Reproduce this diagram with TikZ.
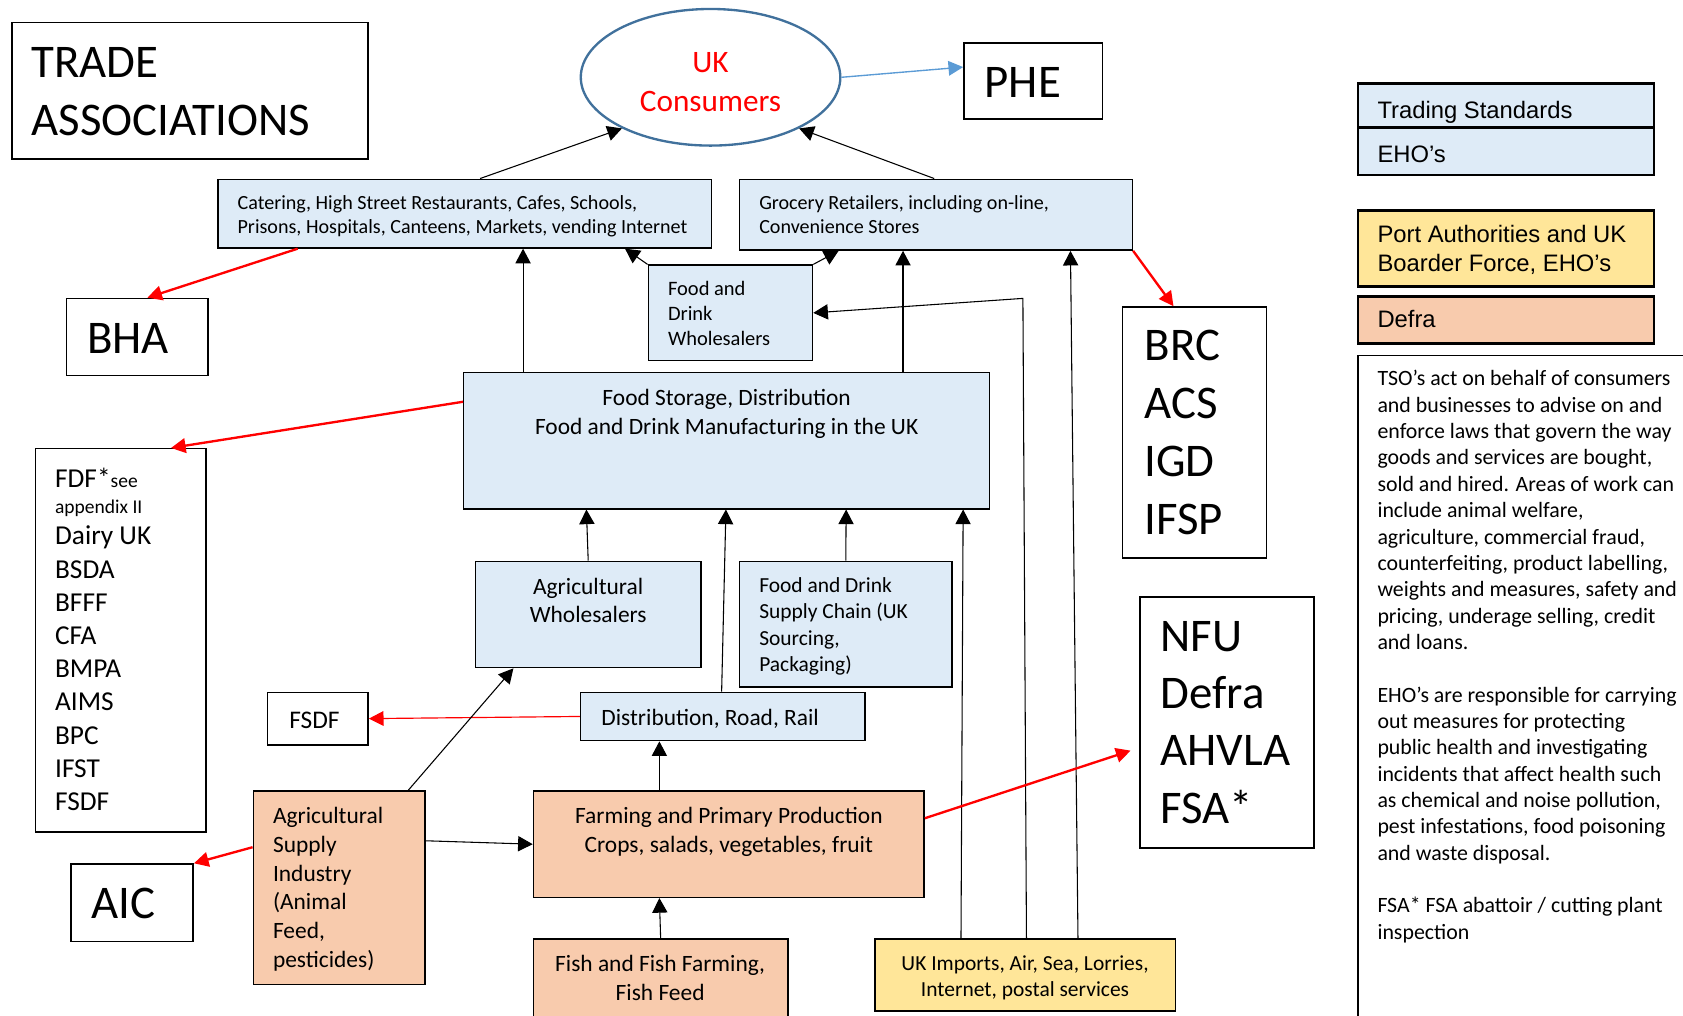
\documentclass[tikz,border=0pt]{standalone}
\usepackage{fontspec}
\setmainfont{Carlito}
\newfontfamily\legendfont{Liberation Sans}
\usepackage{xcolor}
\usetikzlibrary{positioning,arrows.meta,calc,fit,shapes.geometric}

\definecolor{boxblue}{RGB}{222,235,247}
\definecolor{boxpeach}{RGB}{248,203,173}
\definecolor{boxyellow}{RGB}{255,230,153}
\definecolor{ukblue}{RGB}{65,113,156}
\definecolor{arrblue}{RGB}{91,155,213}

\newcommand\setsz[2]{\fontsize{#1}{#2}\selectfont}

\begin{document}
\begin{tikzpicture}[x=0.55pt, y=-0.55pt,
  blk/.style={draw, line width=0.75pt, inner sep=0pt},
  bluebox/.style={blk, fill=boxblue},
  peachbox/.style={blk, fill=boxpeach},
  yellowbox/.style={blk, fill=boxyellow},
  legbox/.style={line width=1.3pt},
  txt/.style={inner sep=0pt, align=left},
  ctxt/.style={inner sep=0pt, align=center},
  arr/.style={-{Triangle[length=7.5pt,width=7.8pt]}, line width=0.55pt},
  redarr/.style={-{Triangle[length=7.5pt,width=7.5pt]}, red, line width=1.2pt},
  thinred/.style={-{Triangle[length=7.5pt,width=7.5pt]}, red, line width=0.6pt}]
\useasboundingbox (0,0) rectangle (1568,946);
\clip (0,0) rectangle (1568,946);

% ---- consumers and the outlets ----
% (multi-line texts: base = baseline of the last line)
\node[blk, fit={(11,21) (343,148)}] (trade) {};
\node[txt, anchor=base west, font=\setsz{24}{29.7}] (trade-t) at (29,126) {TRADE\\ASSOCIATIONS};
\node[ellipse, draw=ukblue, line width=1.2pt, minimum width=133pt, minimum height=70pt] (uk) at (662,72) {};
\node[ctxt, anchor=base, text=red, font=\setsz{16}{19.8}] (uk-t) at (662,104) {UK\\Consumers};
\node[blk, fit={(898,40) (1027,111)}] (phe) {};
\node[txt, anchor=base west, font=\setsz{24}{29.7}] (phe-t) at (917,91) {PHE};
\node[bluebox, fit={(203,167) (663,231)}] (cat) {};
\node[txt, anchor=base west, font=\setsz{10.3}{12.65}] (cat-t) at (221,218)
  {Catering, High Street Restaurants, Cafes, Schools,\\Prisons, Hospitals, Canteens, Markets, vending Internet};
\node[bluebox, fit={(689,167) (1055,233)}] (groc) {};
\node[txt, anchor=base west, font=\setsz{10.3}{12.65}] (groc-t) at (707,218)
  {Grocery Retailers, including on-line,\\Convenience Stores};
\node[blk, fit={(62,278) (194,350)}] (bha) {};
\node[txt, anchor=base west, font=\setsz{24}{29.7}] (bha-t) at (81,329) {BHA};
\node[bluebox, fit={(604,247) (757,336)}] (fdw) {};
\node[txt, anchor=base west, font=\setsz{10.5}{12.9}] (fdw-t) at (622,322) {Food and\\Drink\\Wholesalers};

% ---- manufacturing and suppliers ----
\node[bluebox, fit={(432,347) (922,474)}] (fsd) {};
\node[ctxt, anchor=base, font=\setsz{12}{14.85}] (fsd-t) at (677,405)
  {Food Storage, Distribution\\Food and Drink Manufacturing in the UK};
\node[blk, fit={(33,418) (192,775)}] (fdf) {};
\node[txt, anchor=base west, font=\setsz{14}{17}] (fdf-t) at (51,755)
  {FDF*{\setsz{10}{12}see}\\[-4pt]{\setsz{10}{12}appendix II}\\[-0.8pt]Dairy UK\\BSDA\\BFFF\\CFA\\BMPA\\AIMS\\BPC\\IFST\\FSDF};
\node[blk, fit={(1046,286) (1180,520)}] (brc) {};
\node[txt, anchor=base west, font=\setsz{24}{29.7}] (brc-t) at (1066,498) {BRC\\ACS\\IGD\\IFSP};
\node[blk, fit={(1062,556) (1224,790)}] (nfu) {};
\node[txt, anchor=base west, font=\setsz{24}{29.4}] (nfu-t) at (1081,767) {NFU\\Defra\\AHVLA\\FSA*};
\node[bluebox, fit={(443,523) (653,622)}] (agw) {};
\node[ctxt, anchor=base, font=\setsz{12}{14.3}] (agw-t) at (548,580) {Agricultural\\Wholesalers};
\node[bluebox, fit={(689,523) (887,640)}] (fdsc) {};
\node[txt, anchor=base west, font=\setsz{11}{13.6}] (fdsc-t) at (707,626)
  {Food and Drink\\Supply Chain (UK\\Sourcing,\\Packaging)};
\node[blk, fit={(249,645) (343,694)}] (fsdf) {};
\node[ctxt, anchor=base, font=\setsz{13}{15}] (fsdf-t) at (293,679) {FSDF};
\node[bluebox, fit={(541,645) (806,690)}] (dist) {};
\node[txt, anchor=base west, font=\setsz{12}{14.85}] (dist-t) at (560,676) {Distribution, Road, Rail};

% ---- primary production and imports ----
\node[peachbox, fit={(236,737) (396,917)}] (asi) {};
\node[txt, anchor=base west, font=\setsz{12}{14.7}] (asi-t) at (254,901)
  {Agricultural\\Supply\\Industry\\(Animal\\Feed,\\pesticides)};
\node[peachbox, fit={(497,737) (861,836)}] (farm) {};
\node[ctxt, anchor=base, font=\setsz{12}{14.85}] (farm-t) at (679,794)
  {Farming and Primary Production\\Crops, salads, vegetables, fruit};
\node[peachbox, fit={(497,875) (734,970)}] (fish) {};
\node[ctxt, anchor=base, font=\setsz{12}{14.85}] (fish-t) at (615,932) {Fish and Fish Farming,\\Fish Feed};
\node[yellowbox, fit={(815,875) (1095,942)}] (imp) {};
\node[ctxt, anchor=base, font=\setsz{11}{13.2}] (imp-t) at (955,928)
  {UK Imports, Air, Sea, Lorries,\\Internet, postal services};
\node[blk, fit={(66,805) (180,877)}] (aic) {};
\node[txt, anchor=base west, font=\setsz{24}{29.7}] (aic-t) at (85,856) {AIC};

% ---- key ----
\node[bluebox, legbox, fit={(1265,78) (1541,119)}] (lgts) {};
\node[txt, anchor=base west, font=\legendfont\setsz{12.2}{14}] (lgts-t) at (1283,110) {Trading Standards};
\node[bluebox, legbox, fit={(1265,119) (1541,163)}] (lgeho) {};
\node[txt, anchor=base west, font=\legendfont\setsz{12.2}{14}] (lgeho-t) at (1283,151) {EHO’s};
\node[yellowbox, legbox, fit={(1265,196) (1541,267)}] (lgport) {};
\node[txt, anchor=base west, font=\legendfont\setsz{12.2}{14.85}] (lgport-t) at (1283,253)
  {Port Authorities and UK\\Boarder Force, EHO’s};
\node[peachbox, legbox, fit={(1265,276) (1541,320)}] (lgdefra) {};
\node[txt, anchor=base west, font=\legendfont\setsz{12.2}{14}] (lgdefra-t) at (1283,305) {Defra};
\node[blk, fit={(1265,331) (1590,970)}] (notes) {};
\node[txt, anchor=base west, font=\setsz{11.2}{13.5}] (notes-t) at (1283,875)
  {TSO’s act on behalf of consumers\\and businesses to advise on and\\enforce laws that govern the way\\
   goods and services are bought,\\sold and hired. Areas of work can\\include animal welfare,\\
   agriculture, commercial fraud,\\counterfeiting, product labelling,\\weights and measures, safety and\\
   pricing, underage selling, credit\\and loans.\\[13.5pt]
   EHO’s are responsible for carrying\\out measures for protecting\\public health and investigating\\
   incidents that affect health such\\as chemical and noise pollution,\\pest infestations, food poisoning\\
   and waste disposal.\\[13.5pt]
   FSA* FSA abattoir / cutting plant\\inspection};

% ---- flows ----
\draw[arr] ($(cat.north west)+(245,0)$) -- (uk.210);
\draw[arr] ($(groc.north west)+(182,0)$) -- (uk.330);
\draw[-{Triangle[length=7.5pt,width=7.5pt]}, arrblue, line width=0.7pt] (uk.east) -- ($(phe.west)+(0,-13)$);
\draw[redarr] ($(cat.south west)+(75,0)$) -- ($(bha.north west)+(76,0)$);
\draw[redarr] (groc.south east) -- ($(brc.north west)+(48,0)$);
\draw[arr] ($(fsd.north west)+(56,0)$) -- ($(cat.south west)+(285,0)$);
\draw[arr] ($(fsd.north west)+(410,0)$) -- ($(groc.south west)+(153,0)$);
\draw[arr] (fdw.north west) -- ($(cat.south west)+(380,0)$);
\draw[arr] (fdw.north east) -- ($(groc.south west)+(93,0)$);
\coordinate (bend) at (953,278);
\draw[arr] ($(imp.north west)+(142,0)$) -- (bend) -- (fdw.east);
\draw[arr] ($(imp.north west)+(190,0)$) -- ($(groc.south west)+(309,0)$);
\draw[arr] ($(imp.north west)+(81,0)$) -- ($(fsd.south west)+(466,0)$);
\draw[redarr] ($(fsd.north west)+(0,28)$) -- ($(fdf.north west)+(127,0)$);
\draw[arr] (agw.north) -- ($(fsd.south west)+(115,0)$);
\draw[arr] ($(dist.north west)+(132,0)$) -- ($(fsd.south west)+(245,0)$);
\draw[arr] (fdsc.north) -- ($(fsd.south west)+(357,0)$);
\draw[thinred] (dist.west) -- (fsdf.east);
\draw[arr] ($(asi.north west)+(145,0)$) -- ($(agw.south west)+(36,0)$);
\draw[arr] ($(farm.north west)+(118,0)$) -- ($(dist.south west)+(74,0)$);
\draw[arr] ($(asi.north east)+(0,47)$) -- (farm.west);
\draw[redarr] ($(asi.north west)+(0,53)$) -- (aic.north east);
\draw[redarr] ($(farm.north east)+(0,26)$) -- ($(nfu.north west)+(-8,144)$);
\draw[arr] (fish.north) -- ($(farm.south west)+(118,0)$);
\end{tikzpicture}
\end{document}
